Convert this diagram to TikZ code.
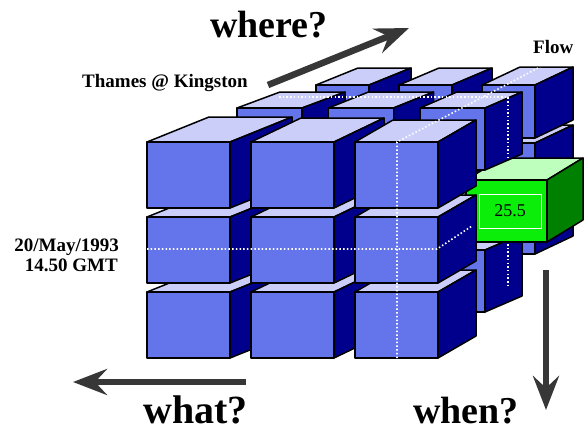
\documentclass[tikz,border=0pt]{standalone}
\usepackage{fontspec}
\setmainfont{Liberation Serif}
\usetikzlibrary{arrows.meta}
\definecolor{bfront}{RGB}{100,116,234}
\definecolor{btop}{RGB}{204,206,250}
\definecolor{bside}{RGB}{0,0,140}
\definecolor{gfront}{RGB}{10,238,10}
\definecolor{gtop}{RGB}{190,255,190}
\definecolor{gside}{RGB}{0,128,0}
\definecolor{arrowgray}{RGB}{55,55,55}
% #1 left, #2 top, #3 width, #4 height, #5 depth dx, #6 depth dy, #7 front, #8 top, #9 side
\newcommand{\datacell}[9]{%
  \filldraw[fill=#8,facebox] ({#1},{#2}) -- ({(#1)+(#5)},{(#2)+(#6)}) -- ({(#1)+(#3)+(#5)},{(#2)+(#6)}) -- ({(#1)+(#3)},{#2}) -- cycle;
  \filldraw[fill=#9,facebox] ({(#1)+(#3)},{#2}) -- ({(#1)+(#3)+(#5)},{(#2)+(#6)}) -- ({(#1)+(#3)+(#5)},{(#2)+(#4)+(#6)}) -- ({(#1)+(#3)},{(#2)+(#4)}) -- cycle;
  \filldraw[fill=#7,facebox] ({#1},{#2}) rectangle ({(#1)+(#3)},{(#2)+(#4)});
}
\begin{document}
\begin{tikzpicture}[x=1pt,y=-1pt,
  facebox/.style={draw=black,line width=1.5pt,line join=round},
  dots/.style={white,line width=1.6pt,dash pattern=on 1.5pt off 2.2pt},
  bigarrow/.style={arrowgray,line width=6.5pt,-{Stealth[length=34pt,width=26pt,inset=12pt]}},
  lbl/.style={font=\bfseries\fontsize{19}{22}\selectfont,inner sep=0pt},
  axislbl/.style={font=\bfseries\fontsize{38}{40}\selectfont,inner sep=0pt,text depth=0pt}]
\useasboundingbox[fill=white] (0,0) rectangle (587,432);
% back layer
\foreach \r in {2,1,0}{
  \foreach \c/\dx/\dy in {0/42/-17,1/40/-17,2/38/-18}{
    \datacell{316+83*\c}{85+58*\r}{53}{53}{\dx}{\dy}{bfront}{btop}{bside}
  }
}
% middle layer
\foreach \c/\dx in {0/43,1/40,2/37}{
  \datacell{237+91.5*\c}{250}{65}{62}{\dx}{-16}{bfront}{btop}{bside}
}
\foreach \c/\dx in {0/43,1/40}{
  \datacell{237+91.5*\c}{179}{65}{62}{\dx}{-16}{bfront}{btop}{bside}
}
\datacell{466}{180}{81}{62}{36}{-22}{gfront}{gtop}{gside}
\draw[white,line width=0.8pt] (479,194) rectangle (541,228);
\node[font=\fontsize{18}{20}\selectfont,inner sep=0pt] (val) at (510,211) {25.5};
\foreach \c/\dx in {0/43,1/40,2/37}{
  \datacell{237+91.5*\c}{108}{65}{62}{\dx}{-16}{bfront}{btop}{bside}
}
% front layer
\foreach \r in {2,1,0}{
  \foreach \c/\dx/\dy in {0/62/-25,1/50/-24,2/38/-22}{
    \datacell{147+104*\c}{142+75*\r}{83}{66}{\dx}{\dy}{bfront}{btop}{bside}
  }
}
% dotted guide lines
\draw[dots] (147,249) -- (437,249) -- (472,226);
\draw[dots] (397,358) -- (397,142) -- (540,67);
\draw[dots] (279,97) -- (508,97) -- (508,158);
\draw[dots] (508,244) -- (508,288);
% axis arrows
\coordinate (wa) at (268,85);
\coordinate (wb) at (409,28);
\coordinate (ta) at (246,382);
\coordinate (tb) at (73,382);
\coordinate (na) at (546,270);
\coordinate (nb) at (546,410);
\draw[bigarrow] (wa) -- (wb);
\draw[bigarrow] (ta) -- (tb);
\draw[bigarrow] (na) -- (nb);
% labels
\node[axislbl,anchor=base west] (where) at (210,37) {where?};
\node[axislbl,anchor=base west,font=\bfseries\fontsize{40}{42}\selectfont] (what) at (143,423) {what?};
\node[axislbl,anchor=base west] (when) at (413,423) {when?};
\node[lbl,anchor=base west] (flow) at (533,53) {Flow};
\node[lbl,anchor=base west] (thames) at (82,87) {Thames @ Kingston};
\node[lbl,anchor=base east] (date) at (119,251) {20/May/1993};
\node[lbl,anchor=base east] (time) at (118,271) {14.50 GMT};
\end{tikzpicture}
\end{document}
